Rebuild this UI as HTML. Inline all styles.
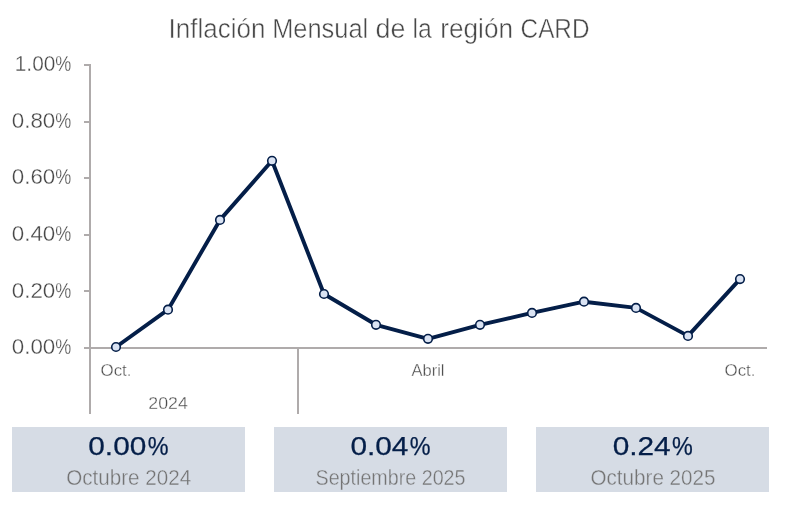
<!DOCTYPE html>
<html lang="es"><head><meta charset="utf-8"><title>Inflación Mensual de la región CARD</title>
<style>
html,body{margin:0;padding:0;background:#fff;}
body{width:789px;height:512px;overflow:hidden;font-family:"Liberation Sans",sans-serif;}
svg{display:block}
text{font-family:"Liberation Sans",sans-serif;}
.yl{font-size:21.6px;fill:#484848;stroke:#fff;stroke-width:.32px}
.xl{font-size:16px;fill:#4d4d4d;text-anchor:middle;stroke:#fff;stroke-width:.3px}
.ttl{font-size:27px;fill:#484848;stroke:#fff;stroke-width:.45px}
.val{font-size:25.8px;fill:#041E48;stroke:#041E48;stroke-width:.25px}
.cap{font-size:21.8px;fill:#747474;text-anchor:middle;stroke:#D6DCE5;stroke-width:.38px}
</style></head><body>
<svg width="789" height="512" viewBox="0 0 789 512">
<rect width="789" height="512" fill="#fff"/>
<!-- title -->
<text class="ttl" y="37.8"><tspan x="168.6" textLength="96.8" lengthAdjust="spacingAndGlyphs">Inflación</tspan> <tspan x="272.2" textLength="96.0" lengthAdjust="spacingAndGlyphs">Mensual</tspan> <tspan x="375.5" textLength="29.8" lengthAdjust="spacingAndGlyphs">de</tspan> <tspan x="412.6" textLength="19.3" lengthAdjust="spacingAndGlyphs">la</tspan> <tspan x="440.3" textLength="72.7" lengthAdjust="spacingAndGlyphs">región</tspan> <tspan x="520.6" textLength="68.9" lengthAdjust="spacingAndGlyphs">CARD</tspan></text>
<!-- axes -->
<g fill="#AFABAB" shape-rendering="crispEdges">
<rect x="89" y="64" width="2" height="350"/>
<rect x="297" y="348" width="2" height="66"/>
<rect x="84" y="347" width="683" height="2"/>
<rect x="84" y="64" width="6" height="2"/>
<rect x="84" y="121" width="6" height="2"/>
<rect x="84" y="177" width="6" height="2"/>
<rect x="84" y="234" width="6" height="2"/>
<rect x="84" y="290" width="6" height="2"/>
</g>
<!-- y labels -->
<text class="yl" x="14.8" y="71"><tspan textLength="40.5" lengthAdjust="spacingAndGlyphs">1.00</tspan><tspan dx="0" textLength="16" lengthAdjust="spacingAndGlyphs">%</tspan></text>
<text class="yl" x="11.8" y="127.8"><tspan textLength="43.5" lengthAdjust="spacingAndGlyphs">0.80</tspan><tspan dx="0" textLength="16" lengthAdjust="spacingAndGlyphs">%</tspan></text>
<text class="yl" x="11.8" y="184.3"><tspan textLength="43.5" lengthAdjust="spacingAndGlyphs">0.60</tspan><tspan dx="0" textLength="16" lengthAdjust="spacingAndGlyphs">%</tspan></text>
<text class="yl" x="11.8" y="241"><tspan textLength="43.5" lengthAdjust="spacingAndGlyphs">0.40</tspan><tspan dx="0" textLength="16" lengthAdjust="spacingAndGlyphs">%</tspan></text>
<text class="yl" x="11.8" y="297.5"><tspan textLength="43.5" lengthAdjust="spacingAndGlyphs">0.20</tspan><tspan dx="0" textLength="16" lengthAdjust="spacingAndGlyphs">%</tspan></text>
<text class="yl" x="11.8" y="354.3"><tspan textLength="43.5" lengthAdjust="spacingAndGlyphs">0.00</tspan><tspan dx="0" textLength="16" lengthAdjust="spacingAndGlyphs">%</tspan></text>
<!-- x labels -->
<g class="xl">
<text x="116" y="375.7" textLength="31" lengthAdjust="spacingAndGlyphs">Oct.</text>
<text x="428" y="375.7" textLength="33" lengthAdjust="spacingAndGlyphs">Abril</text>
<text x="740" y="375.7" textLength="31" lengthAdjust="spacingAndGlyphs">Oct.</text>
<text x="168" y="409.4" textLength="39.5" lengthAdjust="spacingAndGlyphs">2024</text>
</g>
<!-- series -->
<polyline points="116.0,347.0 168.0,309.7 220.0,219.9 272.0,160.8 324.0,294.0 376.0,324.8 428.0,338.8 480.0,324.8 532.0,312.9 584.0,301.7 636.0,307.9 688.0,335.9 740.0,279.1" fill="none" stroke="#041E48" stroke-width="3.9" stroke-linejoin="round" stroke-linecap="round"/>
<g fill="#DAE3F3" stroke="#041E48" stroke-width="1.6">
<circle cx="116.0" cy="347.0" r="4.3"/>
<circle cx="168.0" cy="309.7" r="4.3"/>
<circle cx="220.0" cy="219.9" r="4.3"/>
<circle cx="272.0" cy="160.8" r="4.3"/>
<circle cx="324.0" cy="294.0" r="4.3"/>
<circle cx="376.0" cy="324.8" r="4.3"/>
<circle cx="428.0" cy="338.8" r="4.3"/>
<circle cx="480.0" cy="324.8" r="4.3"/>
<circle cx="532.0" cy="312.9" r="4.3"/>
<circle cx="584.0" cy="301.7" r="4.3"/>
<circle cx="636.0" cy="307.9" r="4.3"/>
<circle cx="688.0" cy="335.9" r="4.3"/>
<circle cx="740.0" cy="279.1" r="4.3"/>
</g>
<!-- cards -->
<g fill="#D6DCE5" shape-rendering="crispEdges">
<rect x="12" y="427" width="233" height="65"/>
<rect x="274" y="427" width="233" height="65"/>
<rect x="536" y="427" width="233" height="65"/>
</g>
<text class="val" x="88.3" y="455.4"><tspan textLength="58" lengthAdjust="spacingAndGlyphs">0.00</tspan><tspan dx="1.4" textLength="20.8" lengthAdjust="spacingAndGlyphs">%</tspan></text>
<text class="val" x="350.4" y="455.4"><tspan textLength="58" lengthAdjust="spacingAndGlyphs">0.04</tspan><tspan dx="1.4" textLength="20.8" lengthAdjust="spacingAndGlyphs">%</tspan></text>
<text class="val" x="612.7" y="455.4"><tspan textLength="58" lengthAdjust="spacingAndGlyphs">0.24</tspan><tspan dx="1.4" textLength="20.8" lengthAdjust="spacingAndGlyphs">%</tspan></text>
<text class="cap" x="128.7" y="484.8" textLength="125" lengthAdjust="spacingAndGlyphs">Octubre 2024</text>
<text class="cap" x="390.5" y="484.8" textLength="150" lengthAdjust="spacingAndGlyphs">Septiembre 2025</text>
<text class="cap" x="653" y="484.8" textLength="125" lengthAdjust="spacingAndGlyphs">Octubre 2025</text>
</svg>
</body></html>
